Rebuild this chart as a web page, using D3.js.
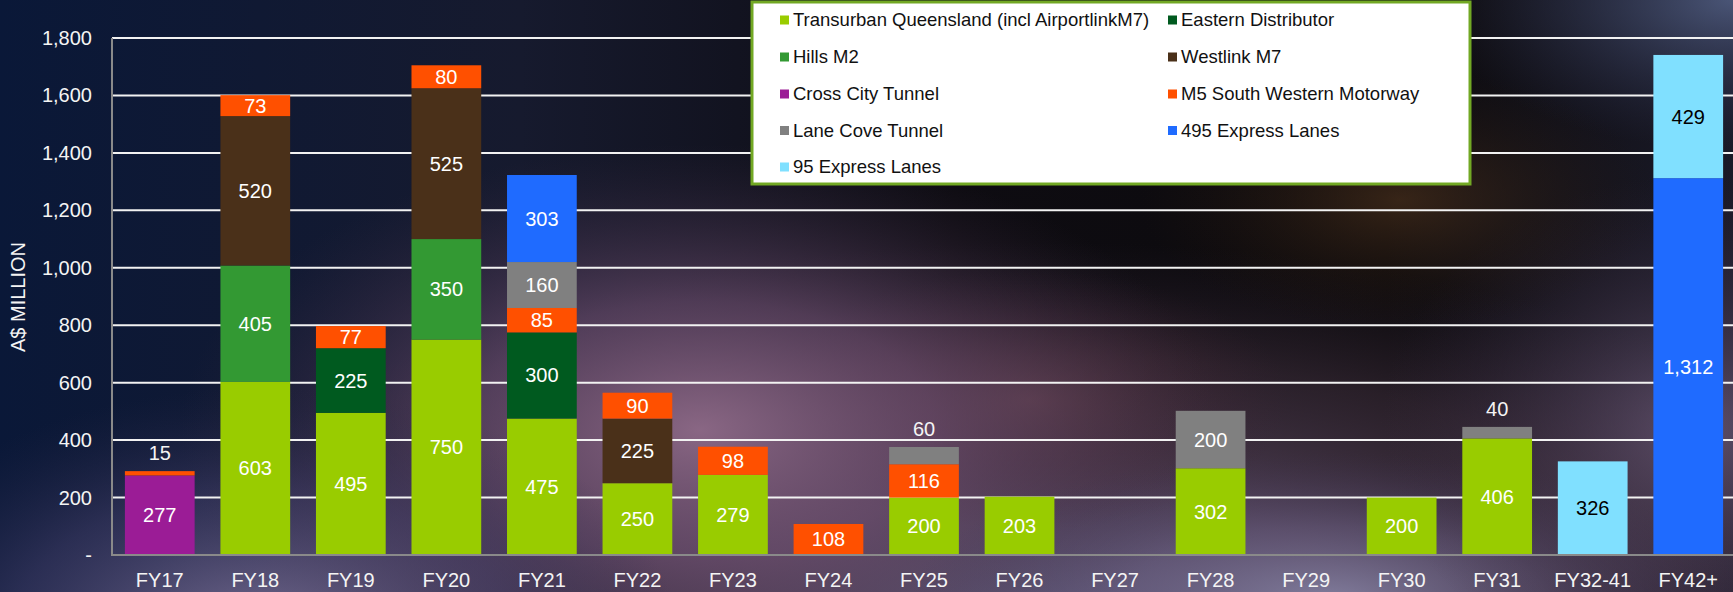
<!DOCTYPE html>
<html>
<head>
<meta charset="utf-8">
<script src="https://cdn.jsdelivr.net/npm/d3@7"></script>
<style>
  html, body { margin: 0; padding: 0; background: #0a1535; }
  svg { display: block; }
  text { font-family: "Liberation Sans", Arial, sans-serif; }
</style>
</head>
<body>
<svg id="chart" width="1733" height="592"></svg>
<script>
// ---------- DATA ----------
const categories = ["FY17","FY18","FY19","FY20","FY21","FY22","FY23","FY24","FY25","FY26","FY27","FY28","FY29","FY30","FY31","FY32-41","FY42+"];
const seriesNames = [
  "Transurban Queensland (incl AirportlinkM7)",
  "Eastern Distributor",
  "Hills M2",
  "Westlink M7",
  "Cross City Tunnel",
  "M5 South Western Motorway",
  "Lane Cove Tunnel",
  "495 Express Lanes",
  "95 Express Lanes"
];
const transurbanQld     = [0, 603, 495, 750, 475, 250, 279, 0, 200, 203, 0, 302, 0, 200, 406, 0, 0];
const easternDistributor= [0, 0, 225, 0, 300, 0, 0, 0, 0, 0, 0, 0, 0, 0, 0, 0, 0];
const hillsM2           = [0, 405, 0, 350, 0, 0, 0, 0, 0, 0, 0, 0, 0, 0, 0, 0, 0];
const westlinkM7        = [0, 520, 0, 525, 0, 225, 0, 0, 0, 0, 0, 0, 0, 0, 0, 0, 0];
const crossCityTunnel   = [277, 0, 0, 0, 0, 0, 0, 0, 0, 0, 0, 0, 0, 0, 0, 0, 0];
const m5SouthWestern    = [15, 73, 77, 80, 85, 90, 98, 108, 116, 0, 0, 0, 0, 0, 0, 0, 0];
const laneCoveTunnel    = [0, 0, 0, 0, 160, 0, 0, 0, 60, 0, 0, 200, 0, 0, 40, 0, 0];
const expressLanes495   = [0, 0, 0, 0, 303, 0, 0, 0, 0, 0, 0, 0, 0, 0, 0, 0, 1312];
const expressLanes95    = [0, 0, 0, 0, 0, 0, 0, 0, 0, 0, 0, 0, 0, 0, 0, 326, 429];
const yTicks = [0, 200, 400, 600, 800, 1000, 1200, 1400, 1600, 1800];
const yTitle = "A$ MILLION";

const seriesValues = [transurbanQld, easternDistributor, hillsM2, westlinkM7, crossCityTunnel, m5SouthWestern, laneCoveTunnel, expressLanes495, expressLanes95];
const seriesColors = ["#99cc00", "#005a1f", "#339933", "#4a3019", "#9b1c96", "#ff5000", "#808080", "#1f6bff", "#80e0ff"];
const labelColors  = ["#ffffff", "#ffffff", "#ffffff", "#ffffff", "#ffffff", "#ffffff", "#ffffff", "#ffffff", "#000000"];

// ---------- SETUP ----------
const W = 1733, H = 592;
const svg = d3.select("#chart");
const defs = svg.append("defs");

function radial(id, cx, cy, r, stops, sx = 1, sy = 1) {
  const g = defs.append("radialGradient").attr("id", id)
    .attr("gradientUnits", "userSpaceOnUse")
    .attr("cx", 0).attr("cy", 0).attr("r", r)
    .attr("gradientTransform", `translate(${cx},${cy}) scale(${sx},${sy})`);
  stops.forEach(s => g.append("stop").attr("offset", s[0]).attr("stop-color", s[1]).attr("stop-opacity", s[2]));
}
const lin = defs.append("linearGradient").attr("id", "base").attr("x1", 0).attr("y1", 0).attr("x2", 1).attr("y2", 0);
[[0, "#0a1838"], [0.3, "#161a2e"], [0.55, "#0e0c12"], [0.8, "#0c0a0c"], [1, "#1a1a28"]]
  .forEach(s => lin.append("stop").attr("offset", s[0]).attr("stop-color", s[1]));

radial("gLower", 1050, 620, 900, [[0, "#6a6486", 0.95], [0.35, "#58465e", 0.85], [0.7, "#40303f", 0.55], [1, "#2a2030", 0]], 1, 0.42);
radial("gMidRed", 1030, 400, 260, [[0, "#65404c", 0.75], [1, "#3a2030", 0]], 1, 0.5);
radial("gPurple", 700, 430, 520, [[0, "#8e6a88", 0.95], [0.45, "#6e4f70", 0.65], [1, "#3a2a40", 0]], 1, 0.55);
radial("gBotLeft", 260, 640, 420, [[0, "#8a7ea6", 0.85], [0.6, "#4a4470", 0.5], [1, "#2a2848", 0]], 1, 0.6);
radial("gBotRight", 1330, 600, 420, [[0, "#8e8cae", 0.8], [0.5, "#6a6084", 0.5], [1, "#3a3050", 0]], 1, 0.35);
radial("gRight", 1700, 430, 320, [[0, "#7a6585", 0.7], [1, "#3a2a40", 0]], 1, 0.8);
radial("gTopRight", 1733, 0, 300, [[0, "#56648a", 0.8], [1, "#2a3050", 0]], 1, 0.5);
radial("gBrown", 1400, 200, 260, [[0, "#5a3a20", 0.55], [1, "#2a1a10", 0]], 1, 0.5);

svg.append("rect").attr("width", W).attr("height", H).attr("fill", "url(#base)");
["gLower", "gMidRed", "gPurple", "gBotLeft", "gBotRight", "gRight", "gTopRight", "gBrown"].forEach(id =>
  svg.append("rect").attr("width", W).attr("height", H).attr("fill", `url(#${id})`));

// ---------- SCALES ----------
const x = d3.scaleBand().domain(categories).range([112, 1736]).paddingInner(0.27).paddingOuter(0.135);
const y = d3.scaleLinear().domain([0, 1800]).range([555, 38]);

// gridlines
svg.append("g").selectAll("line").data(yTicks.filter(d => d > 0)).join("line")
  .attr("x1", 112).attr("x2", W).attr("y1", d => y(d)).attr("y2", d => y(d))
  .attr("stroke", "#f2f2f2").attr("stroke-width", 2);

// y tick labels
svg.append("g").selectAll("text").data(yTicks).join("text")
  .attr("x", 92).attr("y", d => y(d)).attr("dy", "0.35em")
  .attr("text-anchor", "end").attr("fill", "#f4f4f4").attr("font-size", 20)
  .text(d => d === 0 ? "-" : d3.format(",")(d));

// y title
svg.append("text").attr("transform", "translate(18,297) rotate(-90)")
  .attr("text-anchor", "middle").attr("dy", "0.35em")
  .attr("fill", "#f4f4f4").attr("font-size", 20).text(yTitle);

// ---------- STACK ----------
const table = categories.map((c, i) => {
  const o = { cat: c };
  seriesNames.forEach((s, k) => o[s] = seriesValues[k][i]);
  return o;
});
const stacked = d3.stack().keys(seriesNames)(table);

const barG = svg.append("g");
stacked.forEach((layer, k) => {
  barG.append("g").attr("fill", seriesColors[k]).selectAll("rect")
    .data(layer.filter(d => d[1] - d[0] > 0)).join("rect")
    .attr("x", d => x(d.data.cat)).attr("width", x.bandwidth())
    .attr("y", d => y(d[1])).attr("height", d => y(d[0]) - y(d[1]));
});

// axis lines
svg.append("line").attr("x1", 112).attr("x2", 112).attr("y1", y(1800)).attr("y2", y(0))
  .attr("stroke", "#8a8a8a").attr("stroke-width", 2);
svg.append("line").attr("x1", 111).attr("x2", W).attr("y1", y(0)).attr("y2", y(0))
  .attr("stroke", "#8a8a8a").attr("stroke-width", 2);

// labels
const fmt = d3.format(",");
stacked.forEach((layer, k) => {
  layer.forEach(d => {
    const v = d[1] - d[0];
    if (v <= 0) return;
    const cx = x(d.data.cat) + x.bandwidth() / 2;
    const small = v < 65;
    const ty = small ? y(d[1]) - 18 : (y(d[0]) + y(d[1])) / 2;
    svg.append("text").attr("x", cx).attr("y", ty).attr("dy", "0.35em")
      .attr("text-anchor", "middle").attr("font-size", 20)
      .attr("fill", small ? "#f4f4f4" : labelColors[k])
      .text(fmt(v));
  });
});

// x labels
svg.append("g").selectAll("text").data(categories).join("text")
  .attr("x", d => x(d) + x.bandwidth() / 2).attr("y", 587)
  .attr("text-anchor", "middle").attr("fill", "#f4f4f4").attr("font-size", 20)
  .text(d => d);

// ---------- LEGEND ----------
const lg = svg.append("g");
lg.append("rect").attr("x", 752).attr("y", 2).attr("width", 718).attr("height", 182)
  .attr("fill", "#ffffff").attr("stroke", "#72a824").attr("stroke-width", 3);
const colX = [780, 1168];
const rowY = [20, 57, 94, 130.5, 167];
seriesNames.forEach((s, k) => {
  const cx = colX[k % 2], cy = rowY[Math.floor(k / 2)];
  lg.append("rect").attr("x", cx).attr("y", cy - 4.5).attr("width", 9).attr("height", 9).attr("fill", seriesColors[k]);
  lg.append("text").attr("x", cx + 13).attr("y", cy).attr("dy", "0.35em")
    .attr("font-size", 18.5).attr("fill", "#111").text(s);
});
</script>
</body>
</html>
